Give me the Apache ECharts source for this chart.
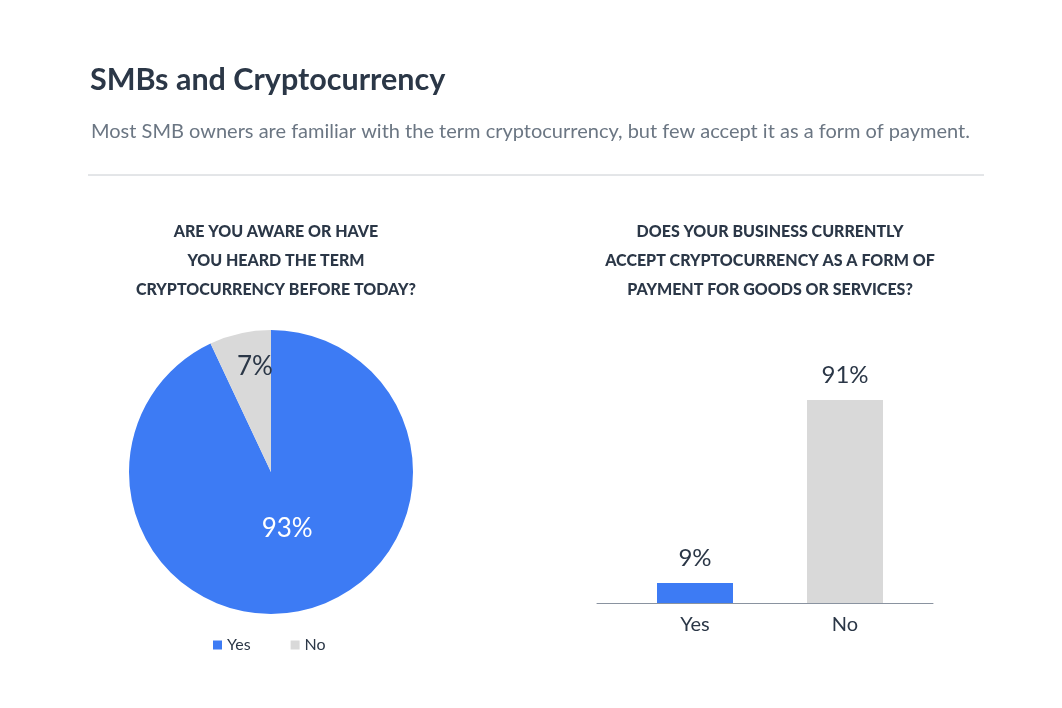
<!DOCTYPE html>
<html>
<head>
<meta charset="utf-8">
<script src="https://cdn.jsdelivr.net/npm/echarts@6/dist/echarts.min.js"></script>
<style>
  html, body { margin: 0; padding: 0; background: #fff; }
  #main { width: 1062px; height: 708px; }
</style>
</head>
<body>
<div id="main"></div>
<script>
// chart data
const awareLabels = ['Yes', 'No'];
const awareValues = [93, 7];
const acceptLabels = ['Yes', 'No'];
const acceptValues = [9, 91];
const colors = ['#3d7bf4', '#d9d9d9'];

const FONT = 'Lato, "Open Sans", sans-serif';
const DARK = '#2b3747';

const chart = echarts.init(document.getElementById('main'));

let option = {
  animation: false,
  textStyle: { fontFamily: FONT },
  title: [
    {
      text: 'SMBs and Cryptocurrency',
      left: 85, top: 60,
      textStyle: { fontSize: 30.5, fontWeight: 'bold', color: DARK, fontFamily: FONT }
    },
    {
      text: 'Most SMB owners are familiar with the term cryptocurrency, but few accept it as a form of payment.',
      left: 86, top: 117,
      textStyle: { fontSize: 20, fontWeight: 'normal', color: '#6b7683', fontFamily: FONT }
    },
    {
      text: 'ARE YOU AWARE OR HAVE\nYOU HEARD THE TERM\nCRYPTOCURRENCY BEFORE TODAY?',
      left: 271, top: 212, textAlign: 'center',
      textStyle: { fontSize: 16, fontWeight: 900, color: DARK, lineHeight: 29, fontFamily: FONT }
    },
    {
      text: 'DOES YOUR BUSINESS CURRENTLY\nACCEPT CRYPTOCURRENCY AS A FORM OF\nPAYMENT FOR GOODS OR SERVICES?',
      left: 765, top: 212, textAlign: 'center',
      textStyle: { fontSize: 16, fontWeight: 900, color: DARK, lineHeight: 29, fontFamily: FONT }
    }
  ],
  legend: {
    data: awareLabels,
    left: 271 - 63, top: 632,
    icon: 'rect', itemWidth: 9, itemHeight: 9, itemGap: 40,
    textStyle: { fontSize: 16, color: DARK, fontFamily: FONT }
  },
  grid: [
    { left: 620, right: 1062 - 920, top: 380, bottom: 105 },
    { left: 597, right: 1062 - 933, top: 380, bottom: 105 }
  ],
  xAxis: [
    {
      type: 'category', gridIndex: 0, data: acceptLabels,
      axisLine: { show: false }, axisTick: { show: false },
      axisLabel: { fontSize: 20, color: DARK, margin: 12, fontFamily: FONT }
    },
    {
      type: 'category', gridIndex: 1, data: acceptLabels,
      axisLine: { lineStyle: { color: '#8a93a0', width: 1 } },
      axisTick: { show: false }, axisLabel: { show: false }
    }
  ],
  yAxis: [
    { type: 'value', gridIndex: 0, min: 0, max: 100, show: false },
    { type: 'value', gridIndex: 1, min: 0, max: 100, show: false }
  ],
  series: [
    {
      type: 'pie',
      center: [271, 472],
      radius: 142,
      startAngle: 90,
      clockwise: true,
      data: awareLabels.map((name, i) => ({
        name: name,
        value: awareValues[i],
        itemStyle: { color: colors[i] },
        label: { color: i === 0 ? '#ffffff' : DARK }
      })),
      label: {
        position: 'inside',
        formatter: '{c}%',
        fontSize: 26,
        fontFamily: FONT
      },
      labelLayout: function (params) {
        return { dy: params.dataIndex === 0 ? -16 : -33 };
      },
      labelLine: { show: false },
      emphasis: { disabled: true }
    },
    {
      type: 'bar',
      xAxisIndex: 0, yAxisIndex: 0,
      barWidth: 76,
      data: acceptValues.map((v, i) => ({ value: v, itemStyle: { color: colors[i] } })),
      label: {
        show: true, position: 'top', distance: 13,
        formatter: '{c}%', fontSize: 24, color: DARK, fontFamily: FONT
      }
    }
  ],
  graphic: [
    {
      type: 'line',
      shape: { x1: 88, y1: 175, x2: 984, y2: 175 },
      style: { stroke: '#c8ccd1', lineWidth: 1 }
    }
  ]
};

chart.setOption(option);
</script>
</body>
</html>
